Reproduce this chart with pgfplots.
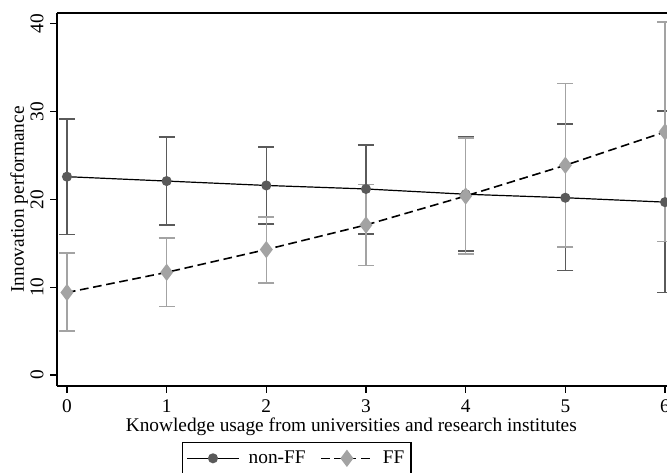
\documentclass[border=0pt]{standalone}
\usepackage{pgfplots}
\pgfplotsset{compat=1.18}
\usepackage{fontspec}
\setmainfont{Liberation Serif}
\definecolor{dg}{HTML}{5A5A5A}
\definecolor{lg}{HTML}{A3A3A3}
\pgfplotstableread{
x y ep em
0 22.6 6.6 6.6
1 22.1 5.0 5.0
2 21.6 4.4 4.4
3 21.2 5.0 5.1
4 20.6 6.6 6.5
5 20.2 8.4 8.3
6 19.7 10.4 10.3
}\nonff
\pgfplotstableread{
x y ep em
0 9.4 4.5 4.4
1 11.7 3.9 3.9
2 14.3 3.7 3.8
3 17.1 4.6 4.6
4 20.4 6.6 6.6
5 23.9 9.3 9.3
6 27.7 12.5 12.5
}\ff
\begin{document}
\fontsize{14.5}{16}\selectfont
\begin{tikzpicture}
\begin{axis}[
  name=ax,
  scale only axis,
  width=457.5pt, height=279.75pt,
  xmin=-0.1, xmax=6.02, ymin=-1.25, ymax=41.25,
  axis x line=box, axis y line=left,
  axis line style={black, line width=0.9pt, -},
  xtick={0,...,6}, ytick={0,10,20,30,40},
  xtick pos=bottom, ytick pos=left,
  tick align=outside, major tick length=5pt,
  tick style={black, line width=0.8pt},
  /pgf/number format/assume math mode=true,
  ticklabel style={font=\fontsize{14.5}{16}\selectfont},
  yticklabel style={rotate=90, anchor=south},
  xlabel={Knowledge usage from universities and research institutes},
  ylabel={Innovation performance},
  label style={font=\fontsize{14.5}{16}\selectfont},
  xlabel style={yshift=6pt, xshift=-8pt},
  ylabel style={yshift=-8pt},
  clip=false,
  legend columns=2,
  legend style={at={(0.205,0)}, anchor=north west, yshift=-42pt,
    draw=black, line width=0.8pt, font=\fontsize{14.5}{16}\selectfont,
    /tikz/every odd column/.append style={column sep=5pt},
    /tikz/every even column/.append style={column sep=9pt},
    inner xsep=3pt, inner ysep=4pt},
  legend image code/.code={\draw[mark repeat=2,mark phase=2,#1] plot coordinates {(0cm,0cm)(0.68cm,0cm)(1.36cm,0cm)};},
]
\addplot[draw=none, forget plot, mark=none,
  error bars/.cd, y dir=both, y explicit,
  error bar style={dg, line width=1.2pt},
  error mark options={dg, rotate=90, mark size=6pt, line width=1.2pt}]
  table[x=x, y=y, y error plus=ep, y error minus=em]{\nonff};
\addplot[draw=none, forget plot, mark=none,
  error bars/.cd, y dir=both, y explicit,
  error bar style={lg, line width=1.2pt},
  error mark options={lg, rotate=90, mark size=6pt, line width=1.2pt}]
  table[x=x, y=y, y error plus=ep, y error minus=em]{\ff};
\addplot[black, line width=0.9pt, mark=*, mark size=3.3pt, mark options={fill=dg, draw=dg, solid}]
  table[x=x, y=y]{\nonff};
\addlegendentry{non-FF}
\addplot[black, line width=1.2pt, dash pattern=on 6.5pt off 3.5pt, mark=diamond*, mark size=5.5pt, mark options={fill=lg, draw=lg, solid}]
  table[x=x, y=y]{\ff};
\addlegendentry{FF}
\coordinate (BL) at (rel axis cs:0,0);
\coordinate (TR) at (rel axis cs:1,1);
\end{axis}
\pgfresetboundingbox
\useasboundingbox ([xshift=-42.75pt, yshift=-65.25pt]BL) rectangle ([yshift=9.75pt]TR);
\end{tikzpicture}
\end{document}
